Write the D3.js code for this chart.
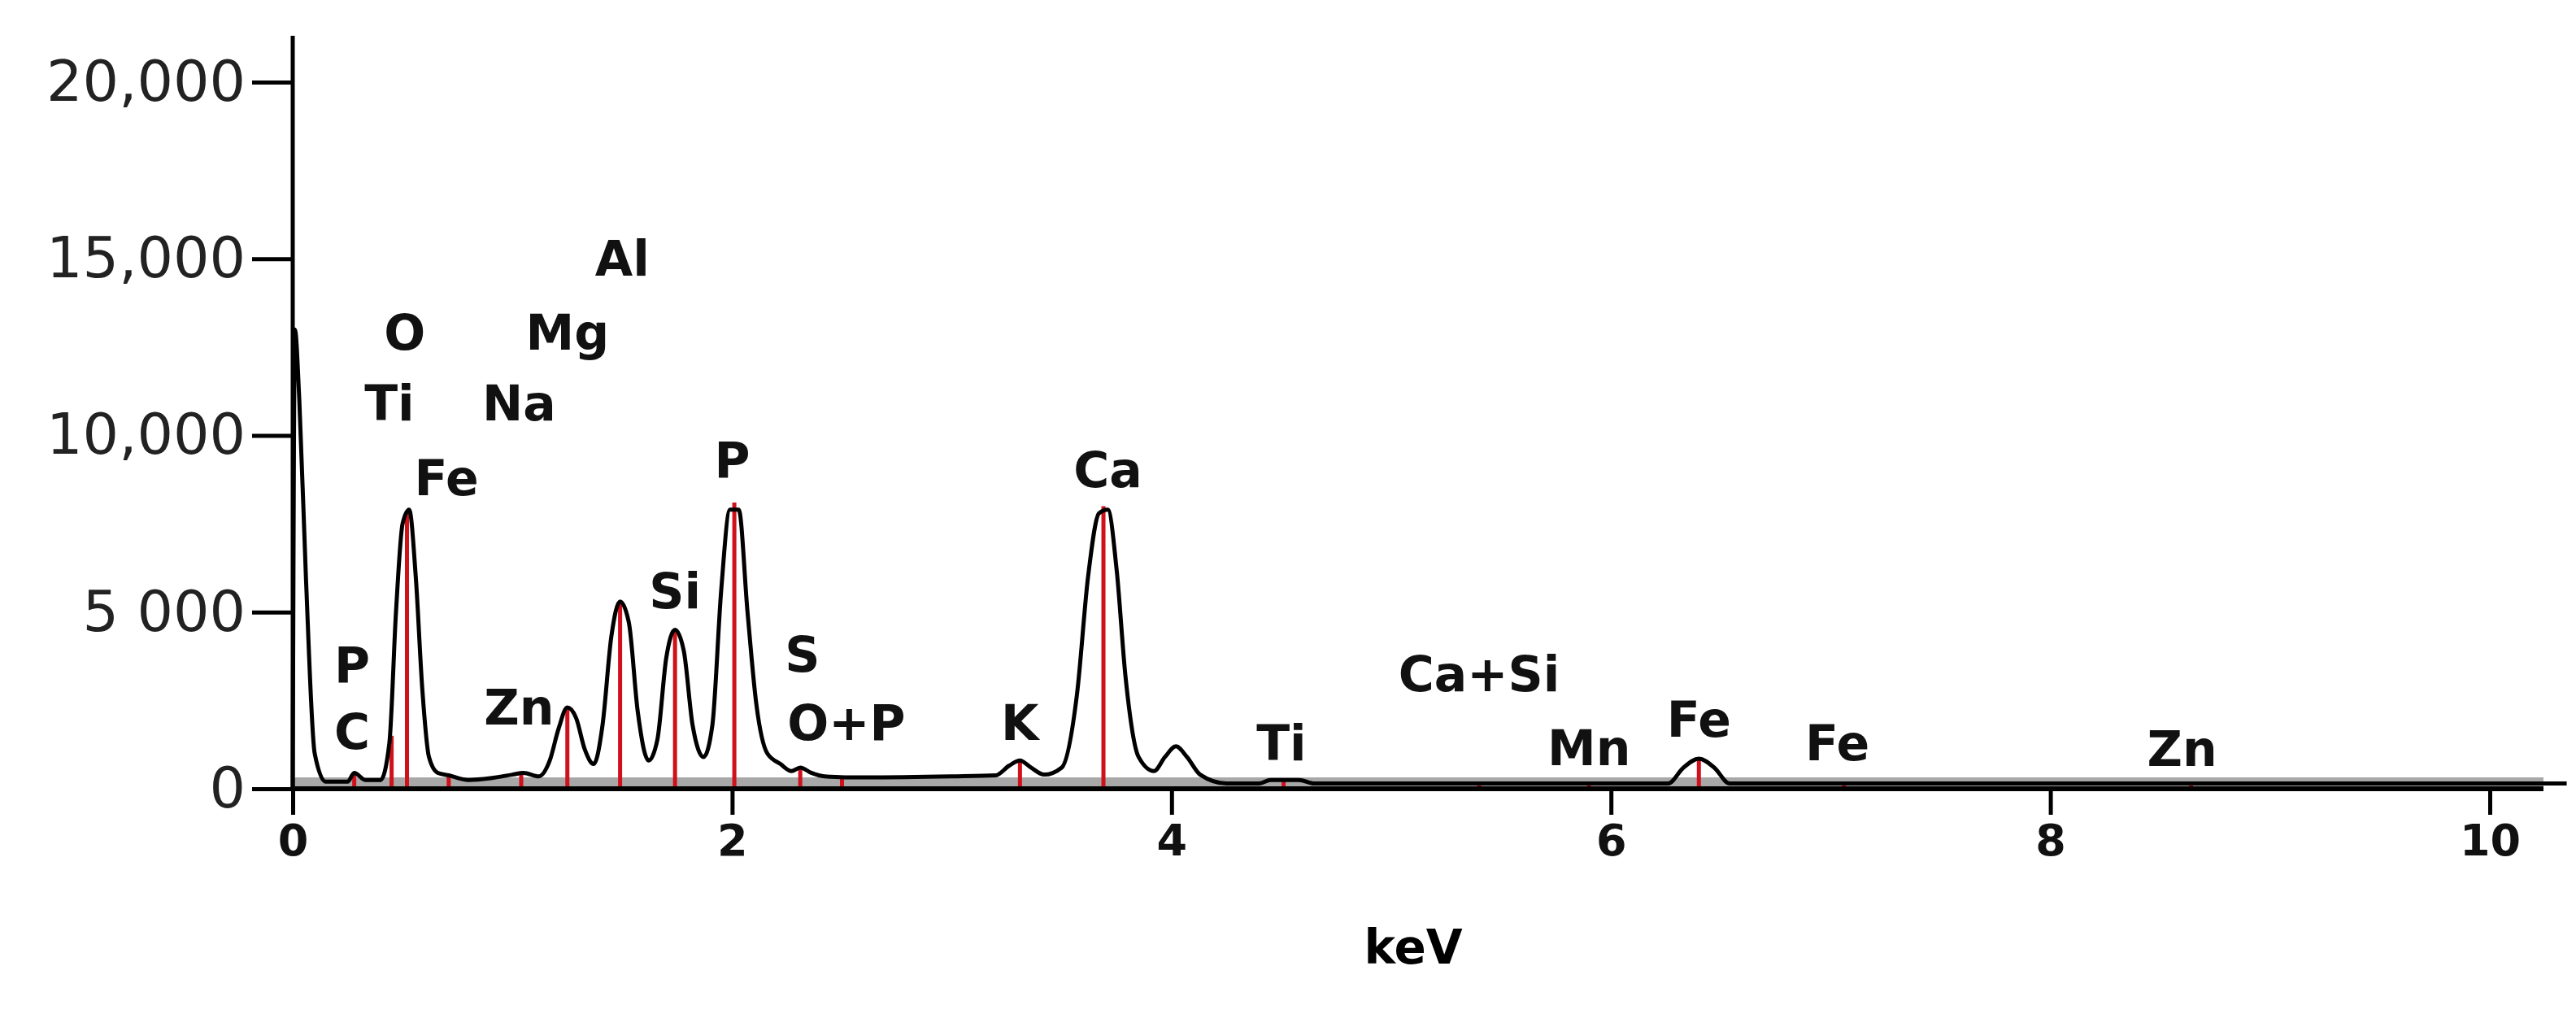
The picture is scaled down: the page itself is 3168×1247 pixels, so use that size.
<!DOCTYPE html>
<html>
<head>
<meta charset="utf-8">
<script src="https://cdn.jsdelivr.net/npm/d3@7"></script>
<style>
  body { margin: 0; background: #fff; }
  svg { display: block; }
</style>
</head>
<body>
<div id="chart"></div>
<script>
// spectrum: energy (keV) and counts
const energy = [0, 0.01, 0.03, 0.06, 0.1, 0.15, 0.25, 0.28, 0.33, 0.4, 0.44, 0.47, 0.5, 0.53, 0.56, 0.59, 0.62, 0.66, 0.71, 0.8, 0.9, 1.0, 1.05, 1.12, 1.17, 1.21, 1.25, 1.29, 1.33, 1.37, 1.41, 1.45, 1.49, 1.53, 1.57, 1.62, 1.66, 1.7, 1.74, 1.78, 1.82, 1.87, 1.91, 1.95, 1.99, 2.03, 2.07, 2.11, 2.16, 2.22, 2.27, 2.31, 2.36, 2.42, 2.6, 3.0, 3.2, 3.26, 3.31, 3.36, 3.42, 3.5, 3.57, 3.62, 3.67, 3.71, 3.75, 3.79, 3.85, 3.92, 3.97, 4.02, 4.07, 4.13, 4.25, 4.4, 4.45, 4.58, 4.65, 6.26, 6.33, 6.4, 6.47, 6.54, 7.0, 10.35];
const counts = [0, 13000, 11000, 6000, 1000, 200, 200, 450, 250, 250, 1300, 5000, 7500, 7900, 6000, 2800, 900, 450, 380, 250, 300, 400, 450, 350, 800, 1700, 2300, 2000, 1100, 700, 1800, 4300, 5300, 4700, 2200, 800, 1400, 3700, 4500, 3900, 1800, 900, 1800, 5600, 7900, 7900, 5000, 2400, 1000, 700, 500, 600, 450, 350, 320, 350, 380, 650, 800, 600, 400, 600, 2700, 6000, 7800, 7900, 6200, 3200, 900, 500, 900, 1200, 900, 400, 150, 150, 250, 250, 150, 150, 600, 850, 600, 150, 150, 150];

// element marker lines (red)
const markerKeV = [0.28, 0.45, 0.52, 0.71, 1.04, 1.25, 1.49, 1.74, 2.01, 2.31, 2.5, 3.31, 3.69, 4.51, 5.4, 5.9, 6.4, 7.06, 8.64];
const markerCounts = [420, 1500, 7800, 380, 420, 2300, 5300, 4500, 8100, 600, 340, 800, 8000, 250, 150, 150, 850, 150, 150];

// peak labels
const labelText = ["P", "C", "O", "Ti", "Na", "Mg", "Al", "Fe", "Zn", "Si", "P", "S", "O+P", "K", "Ca", "Ti", "Ca+Si", "Mn", "Fe", "Fe", "Zn"];
const labelKeV = [0.27, 0.27, 0.51, 0.44, 1.03, 1.25, 1.5, 0.70, 1.03, 1.74, 2.0, 2.32, 2.52, 3.31, 3.71, 4.5, 5.4, 5.9, 6.4, 7.03, 8.6];
const labelCounts = [3500, 1600, 12900, 10900, 10900, 12900, 15000, 8800, 2300, 5600, 9300, 3800, 1860, 1860, 9020, 1300, 3250, 1160, 1950, 1300, 1120];

const yTicks = [0, 5000, 10000, 15000, 20000];
const yTickLabels = ["0", "5 000", "10,000", "15,000", "20,000"];
const xTicks = [0, 2, 4, 6, 8, 10];

const W = 3168, H = 1247;
const svg = d3.select("#chart").append("svg").attr("width", W).attr("height", H);

const x = d3.scaleLinear().domain([0, 10]).range([360, 3062]);
const y = d3.scaleLinear().domain([0, 20000]).range([970, 101]);

// gray baseline band
svg.append("rect")
  .attr("x", x(0)).attr("y", y(0) - 14)
  .attr("width", 3128 - x(0)).attr("height", 16)
  .attr("fill", "#a8a8a8");

// red markers
svg.append("g").selectAll("line")
  .data(markerKeV)
  .join("line")
  .attr("x1", d => x(d)).attr("x2", d => x(d))
  .attr("y1", y(0))
  .attr("y2", (d, i) => y(markerCounts[i]))
  .attr("stroke", "#d0101a").attr("stroke-width", 5);

// spectrum
const pts = energy.map((e, i) => [e, counts[i]]);
svg.append("path")
  .datum(pts)
  .attr("fill", "none")
  .attr("stroke", "#000")
  .attr("stroke-width", 5)
  .attr("stroke-linejoin", "round")
  .attr("d", d3.line().curve(d3.curveMonotoneX).x(d => x(d[0])).y(d => y(d[1])));

// axes
const yAxis = d3.axisLeft(y).tickValues(yTicks)
  .tickFormat((d, i) => yTickLabels[i]).tickSize(50).tickPadding(8);
const gy = svg.append("g").attr("transform", `translate(${x(0)},0)`).call(yAxis);
gy.select(".domain").attr("d", `M0,${y(0)}V44`).attr("stroke-width", 5);
gy.selectAll(".tick line").attr("stroke-width", 5);
gy.selectAll("text").attr("font-family", "DejaVu Sans").attr("font-size", 70).attr("fill", "#222");

const xAxis = d3.axisBottom(x).tickValues(xTicks).tickSize(32).tickPadding(12);
const gx = svg.append("g").attr("transform", `translate(0,${y(0)})`).call(xAxis);
gx.select(".domain").attr("d", `M${x(0)},0H3128`).attr("stroke-width", 6);
gx.selectAll(".tick line").attr("stroke-width", 5);
gx.selectAll("text").attr("font-family", "DejaVu Sans").attr("font-weight", "bold")
  .attr("font-size", 54).attr("fill", "#111");

svg.append("text")
  .attr("x", x(5.1)).attr("y", 1185)
  .attr("text-anchor", "middle")
  .attr("font-family", "DejaVu Sans").attr("font-weight", "bold").attr("font-size", 58)
  .text("keV");

// element labels
svg.append("g").selectAll("text")
  .data(labelText)
  .join("text")
  .attr("x", (d, i) => x(labelKeV[i]))
  .attr("y", (d, i) => y(labelCounts[i]))
  .attr("dy", "0.35em")
  .attr("text-anchor", "middle")
  .attr("font-family", "DejaVu Sans").attr("font-weight", "bold").attr("font-size", 60)
  .attr("fill", "#111")
  .text(d => d);
</script>
</body>
</html>
